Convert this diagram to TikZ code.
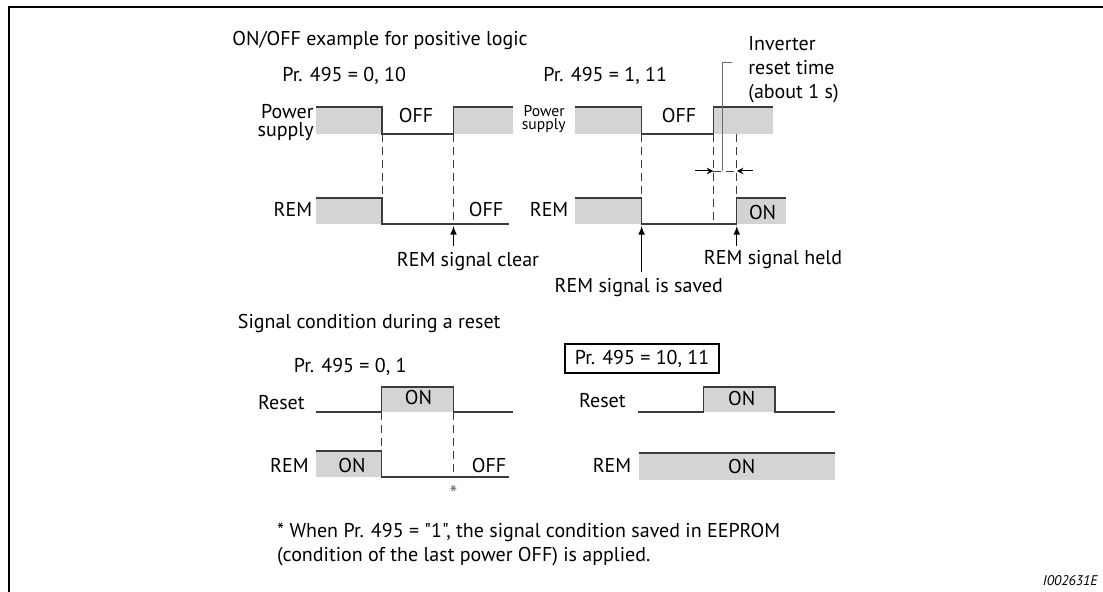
\documentclass[tikz,border=0pt]{standalone}
\usepackage{fontspec}
\setmainfont{PT Sans}[Ligatures=TeXOff]
\usetikzlibrary{arrows,positioning}
\definecolor{sigline}{HTML}{3C3C3C}
\definecolor{sigfill}{HTML}{D4D4D4}
\definecolor{leadgray}{HTML}{6A6A6A}

\begin{document}
\begin{tikzpicture}[
  x=0.5pt, y=-0.5pt,
  every node/.style={font=\fontsize{10}{12}\selectfont, inner sep=0pt},
  wave/.style={draw=sigline, line width=0.6pt},
  shade/.style={fill=sigfill},
  guide/.style={draw=sigline, line width=0.4pt, dash pattern=on 4pt off 2.5pt},
  pin/.style={draw=black, line width=0.5pt, ->, >=latex},
  lbl/.style={anchor=base},
  tiny/.style={font=\fontsize{7.8}{8}\selectfont}
]
\useasboundingbox (0,0) rectangle (1103,592);
\draw[line width=1pt] (9,592) -- (9,7) -- (1103,7);

% positive logic example
\node[lbl, anchor=base west] (title) at (232,46) {ON/OFF example for positive logic};
\node[lbl, anchor=base west] (prA) at (282,82) {Pr. 495 = 0, 10};
\node[lbl, anchor=base west] (prB) at (543,82) {Pr. 495 = 1, 11};

% Pr. 495 = 0, 10
\fill[shade] (316,107) rectangle (382,134);
\fill[shade] (453.5,107) rectangle (512.5,134);
\draw[wave] (316,107) -- (382,107) -- (382,134) -- (453.5,134) -- (453.5,107) -- (512.5,107);
\fill[shade] (316,198) rectangle (382,224);
\draw[wave] (316,198) -- (382,198) -- (382,224) -- (509,224);
\draw[guide] (382,134) -- (382,198);
\draw[guide] (453.5,134) -- (453.5,224);
\node[lbl, anchor=base east] (pwrA) at (314,119) {Power};
\node[lbl, anchor=base east] (supA) at (314,137) {supply};
\node[lbl] (offA) at (416,123) {OFF};
\node[lbl, anchor=base east] (remA) at (312.5,217) {REM};
\node[lbl] (remoffA) at (486,217) {OFF};
\node[lbl] (clrA) at (468,267) {REM signal clear};
\coordinate (clrtip) at (453.5,226);
\draw[pin, shorten <=3pt] (clrtip |- clrA.north) -- (clrtip);

% Pr. 495 = 1, 11
\fill[shade] (575,107) rectangle (641.6,134);
\fill[shade] (713.4,107) rectangle (772.7,134);
\draw[wave] (575,107) -- (641.6,107) -- (641.6,134) -- (713.4,134) -- (713.4,107) -- (772.7,107);
\fill[shade] (575,198) rectangle (641.6,224);
\fill[shade] (736.8,198) rectangle (786,224);
\draw[wave] (575,198) -- (641.6,198) -- (641.6,224) -- (736.8,224) -- (736.8,198) -- (786,198);
\draw[guide] (641.6,134) -- (641.6,198);
\draw[guide] (713.4,134) -- (713.4,224);
\draw[guide] (736.8,134) -- (736.8,198);
\node[lbl, anchor=base east, tiny] (pwrB) at (565,116.7) {Power};
\node[lbl, anchor=base east, tiny] (supB) at (566,129.3) {supply};
\node[lbl] (offB) at (679,123) {OFF};
\node[lbl, anchor=base east] (remB) at (568.7,217) {REM};
\node[lbl] (onB) at (762.6,220) {ON};
\node[anchor=north west, align=left] (inv) at (748,36) {Inverter\\reset time\\(about 1 s)};
\coordinate (gapL) at (713.4,171);
\coordinate (gapR) at (736.8,171);
\coordinate (gapM) at (722,171);
\draw[guide] (gapL) -- (gapR);
\draw[pin, >=stealth] ([xshift=-9pt]gapL) -- (gapL);
\draw[pin, >=stealth] ([xshift=8pt]gapR) -- (gapR);
\draw[draw=leadgray, line width=0.5pt] (gapM) |- ([xshift=-8pt, yshift=3.5pt]inv.west);
\node[lbl] (saved) at (638.8,293) {REM signal is saved};
\node[lbl] (held) at (773,265) {REM signal held};
\coordinate (savtip) at (641.6,226);
\coordinate (heldtip) at (736.8,226);
\draw[pin, shorten <=3pt] (savtip |- saved.north) -- (savtip);
\draw[pin, shorten <=2pt] (heldtip |- held.north) -- (heldtip);

% reset behaviour
\node[lbl, anchor=base west] (sigtitle) at (237.5,329) {Signal condition during a reset};
\node[lbl, anchor=base west] (prC) at (293.5,373) {Pr. 495 = 0, 1};
\node[draw, line width=0.6pt, minimum width=77pt, minimum height=14.5pt] (prD) at (642,358.5) {Pr. 495 = 10, 11};

% Pr. 495 = 0, 1
\fill[shade] (381.4,387) rectangle (453.5,412);
\draw[wave] (316,412) -- (381.4,412) -- (381.4,387) -- (453.5,387) -- (453.5,412) -- (513,412);
\fill[shade] (316,451) rectangle (381.4,477);
\draw[wave] (316,451) -- (381.4,451) -- (381.4,477) -- (509,477);
\draw[guide] (381.4,412) -- (381.4,451);
\draw[guide] (453.5,412) -- (453.5,477);
\node[lbl, anchor=base east] (rstC) at (305,410) {Reset};
\node[lbl] (rstonC) at (418.5,405) {ON};
\node[lbl, anchor=base east] (remC) at (309,473) {REM};
\node[lbl] (remonC) at (352,473) {ON};
\node[lbl] (remoffC) at (489,473) {OFF};
\node[font=\fontsize{11}{11}\selectfont, text=leadgray] (star) at (453.5,494) {*};

% Pr. 495 = 10, 11
\fill[shade] (703.4,387) rectangle (775,412);
\draw[wave] (637.7,412) -- (703.4,412) -- (703.4,387) -- (775,387) -- (775,412) -- (835,412);
\fill[shade] (638.7,453) rectangle (835,480);
\draw[wave] (638.7,453) -- (835,453);
\node[lbl, anchor=base east] (rstD) at (626,408) {Reset};
\node[lbl] (rstonD) at (741.8,406) {ON};
\node[lbl, anchor=base east] (remD) at (631.6,473) {REM};
\node[lbl] (remonD) at (741.8,474) {ON};

% footnote
\node[lbl, anchor=base west] (noteA) at (276.8,538) {* When Pr. 495 = "1", the signal condition saved in EEPROM};
\node[lbl, anchor=base west] (noteB) at (276.8,562) {(condition of the last power OFF) is applied.};
\node[lbl, anchor=base east, font=\fontsize{7}{7}\selectfont\itshape] (figid) at (1098,586) {I002631E};
\end{tikzpicture}
\end{document}
